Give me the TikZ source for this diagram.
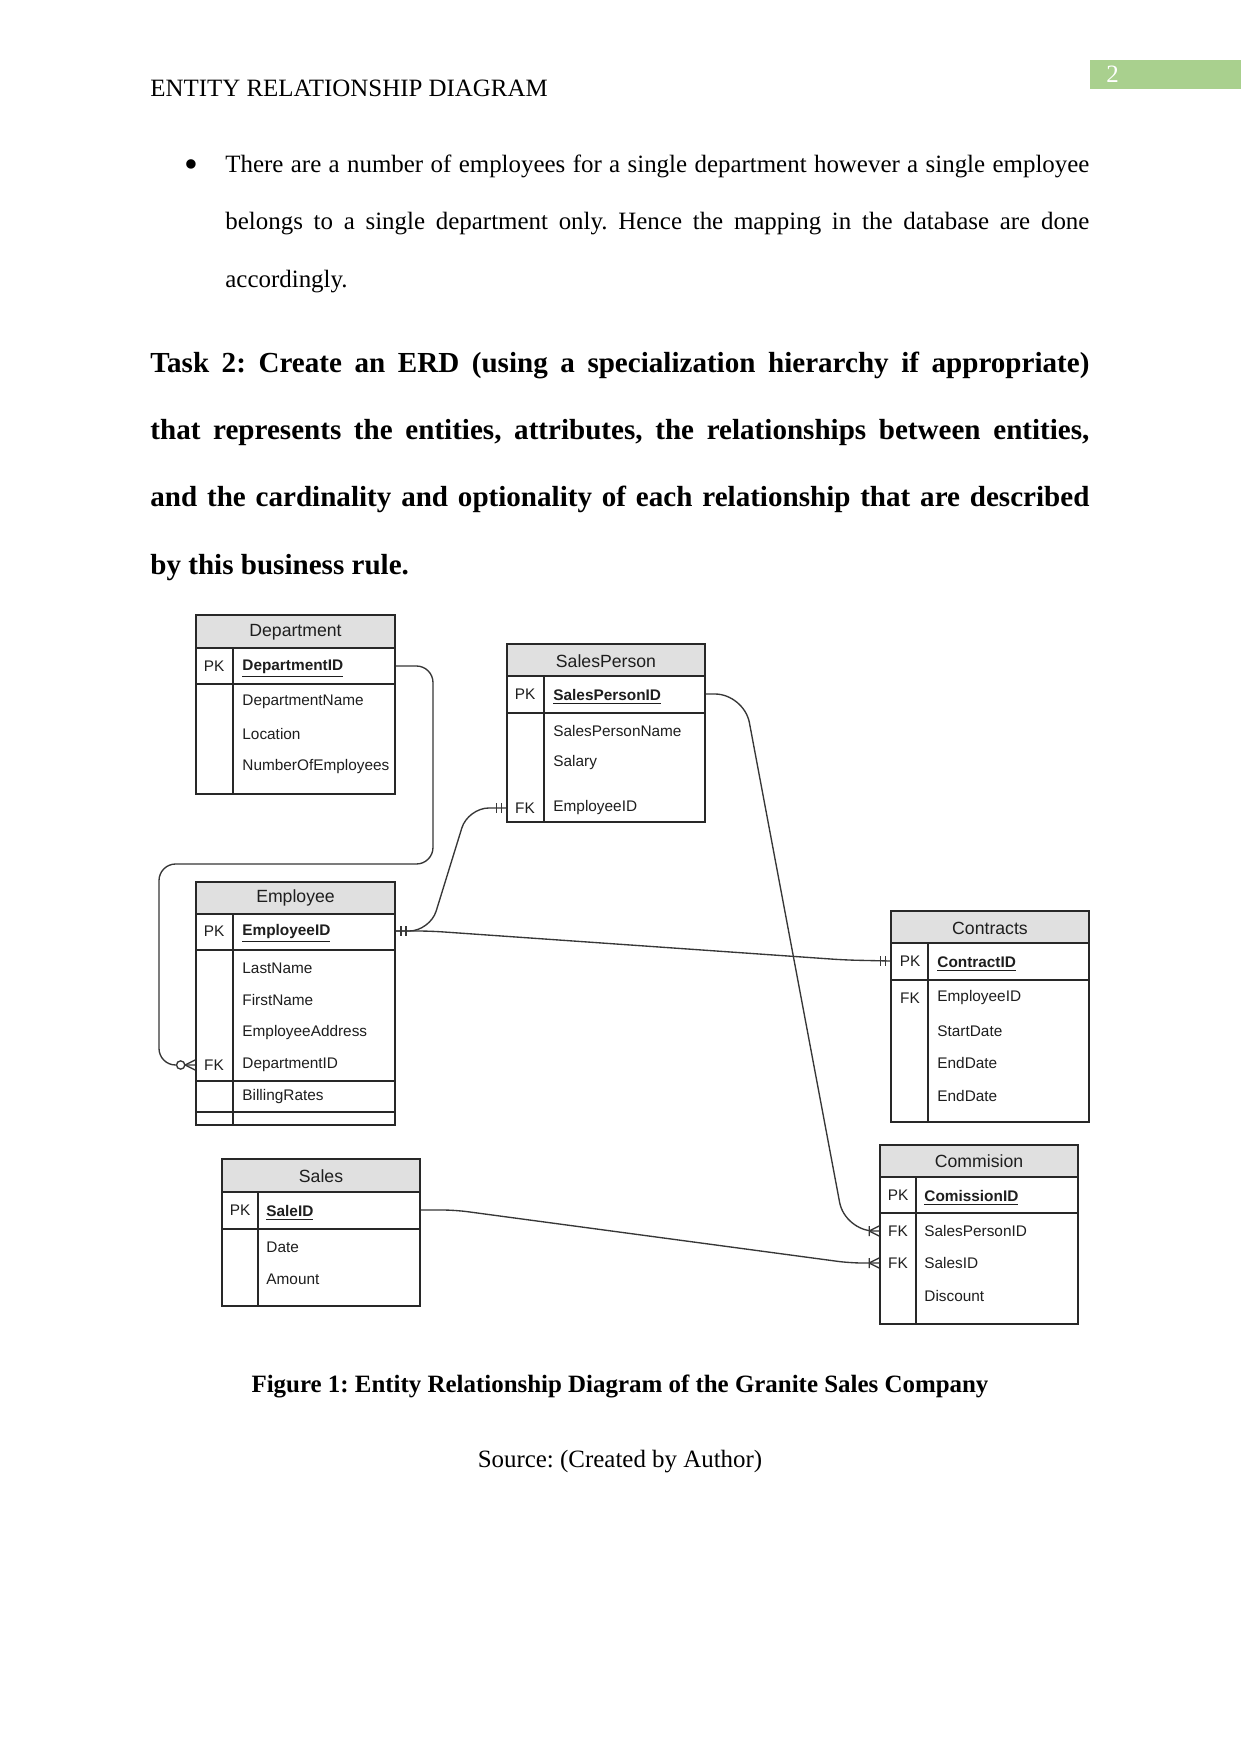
\documentclass[tikz,border=0pt]{standalone}
\usepackage{fontspec}
\setmainfont{Liberation Serif}
\newfontfamily\erfont{Liberation Sans}
\usepackage{xcolor}
\usepackage{tikz}
\usetikzlibrary{fit}
\frenchspacing
\definecolor{pagegreen}{RGB}{169, 208, 142}
\definecolor{hdrgray}{RGB}{224, 224, 224}
\definecolor{framegray}{RGB}{40, 40, 40}
\definecolor{relgray}{RGB}{55, 55, 55}
\definecolor{txtdark}{RGB}{30, 30, 30}

\tikzset{
  bodytxt/.style={anchor=base west, inner sep=0pt, font=\fontsize{12}{14}\selectfont},
  tasktxt/.style={anchor=base west, inner sep=0pt, font=\bfseries\fontsize{14}{16}\selectfont},
  entframe/.style={draw=framegray, line width=0.8pt, inner sep=0pt},
  entline/.style={draw=framegray, line width=0.8pt},
  enthdr/.style={fill=hdrgray},
  enttitle/.style={inner sep=0pt, text=txtdark, font=\erfont\fontsize{8.5}{10}\selectfont},
  keytxt/.style={inner sep=0pt, text=txtdark, font=\erfont\fontsize{7.4}{9}\selectfont},
  fldtxt/.style={anchor=west, inner sep=0pt, text=txtdark, font=\erfont\fontsize{7.4}{9}\selectfont},
  pktxt/.style={fldtxt, yshift=-1.4pt, font=\erfont\bfseries\fontsize{7.4}{9}\selectfont},
  relline/.style={draw=relgray, line width=0.65pt},
  mandone/.pic={
    \draw[relline] (-5,-5) -- (-5,5) (-10,-5) -- (-10,5);
  },
  onemany/.pic={
    \draw[relline] (-10,0) -- (0,-5) (-10,0) -- (0,5) (-10,-5) -- (-10,5);
  },
  zeromany/.pic={
    \draw[relline] (-10,0) -- (0,-5) (-10,0) -- (0,5);
    \draw[relline, fill=white] (-14.5,0) circle[radius=0.7mm];
  }
}

\begin{document}
\begin{tikzpicture}[x=0.16922mm, y=-0.16922mm]
    \useasboundingbox[fill=white] (0,0) rectangle (1241,1754);

    % Running head
    \node[bodytxt] (runhead) at (150,97) {ENTITY RELATIONSHIP DIAGRAM};
    \fill[pagegreen] (1090,60) rectangle (1241,89);
    \node[bodytxt, white] (pagenum) at (1106,83) {2};

    % Bullet point
    \node[inner sep=0pt, font=\fontsize{19}{20}\selectfont] (bullet) at (191,169) {\textbullet};
    \node[bodytxt] (para1) at (225,173) {\makebox[146.2mm][s]{There are a number of employees for a single department however a single employee}};
    \node[bodytxt] (para2) at (225,230) {\makebox[146.2mm][s]{belongs to a single department only. Hence the mapping in the database are done}};
    \node[bodytxt] (para3) at (225,288) {accordingly.};

    % Task heading
    \node[tasktxt] (task1) at (150,373) {\makebox[158.9mm][s]{Task 2: Create an ERD (using a specialization hierarchy if appropriate)}};
    \node[tasktxt] (task2) at (150,440) {\makebox[158.9mm][s]{that represents the entities, attributes, the relationships between entities,}};
    \node[tasktxt] (task3) at (150,507) {\makebox[158.9mm][s]{and the cardinality and optionality of each relationship that are described}};
    \node[tasktxt] (task4) at (150,574) {by this business rule.};

    % Department
    \fill[enthdr] (196,615) rectangle (395,648);
    \node[entframe, fit={(196,615) (395,794)}] (dept) {};
    \draw[entline] (196,648) -- (395,648);
    \draw[entline] (196,684) -- (395,684);
    \draw[entline] (233,648) -- (233,794);
    \node[enttitle] (depttitle) at (295.5,632) {Department};
    \node[keytxt] (deptpk) at (214,666) {PK};
    \node[pktxt] (deptid) at (242,666) {\underline{DepartmentID}};
    \node[fldtxt] (deptname) at (242,702) {DepartmentName};
    \node[fldtxt] (deptloc) at (242,734) {Location};
    \node[fldtxt] (deptnum) at (242,767) {NumberOfEmployees};

    % SalesPerson
    \fill[enthdr] (507,644) rectangle (705,676);
    \node[entframe, fit={(507,644) (705,822)}] (sp) {};
    \draw[entline] (507,676) -- (705,676);
    \draw[entline] (507,713) -- (705,713);
    \draw[entline] (544,676) -- (544,822);
    \node[enttitle] (sptitle) at (606,661) {SalesPerson};
    \node[keytxt] (sppk) at (525,694) {PK};
    \node[pktxt] (spid) at (553,694) {\underline{SalesPersonID}};
    \node[fldtxt] (spname) at (553,731) {SalesPersonName};
    \node[fldtxt] (spsal) at (553,763) {Salary};
    \node[keytxt] (spfk) at (525,808) {FK};
    \node[fldtxt] (spemp) at (553,808) {EmployeeID};

    % Employee
    \fill[enthdr] (196,882) rectangle (395,914);
    \node[entframe, fit={(196,882) (395,1125)}] (emp) {};
    \draw[entline] (196,914) -- (395,914);
    \draw[entline] (196,950) -- (395,950);
    \draw[entline] (196,1081) -- (395,1081);
    \draw[entline] (196,1112) -- (395,1112);
    \draw[entline] (233,914) -- (233,1125);
    \node[enttitle] (emptitle) at (295.5,898) {Employee};
    \node[keytxt] (emppk) at (214,931) {PK};
    \node[pktxt] (empid) at (242,931) {\underline{EmployeeID}};
    \node[fldtxt] (emplast) at (242,968) {LastName};
    \node[fldtxt] (empfirst) at (242,1000) {FirstName};
    \node[fldtxt] (empaddr) at (242,1033) {EmployeeAddress};
    \node[keytxt] (empfk) at (214,1065) {FK};
    \node[fldtxt] (empdept) at (242,1065) {DepartmentID};
    \node[fldtxt] (emprate) at (242,1097) {BillingRates};

    % Contracts
    \fill[enthdr] (891,911) rectangle (1089,943);
    \node[entframe, fit={(891,911) (1089,1122)}] (ct) {};
    \draw[entline] (891,943) -- (1089,943);
    \draw[entline] (891,980) -- (1089,980);
    \draw[entline] (928,943) -- (928,1122);
    \node[enttitle] (cttitle) at (990,928) {Contracts};
    \node[keytxt] (ctpk) at (910,961) {PK};
    \node[pktxt] (ctid) at (937,961) {\underline{ContractID}};
    \node[keytxt] (ctfk) at (910,998) {FK};
    \node[fldtxt] (ctemp) at (937,998) {EmployeeID};
    \node[fldtxt] (ctstart) at (937,1031) {StartDate};
    \node[fldtxt] (ctend) at (937,1063) {EndDate};
    \node[fldtxt] (ctendb) at (937,1096) {EndDate};

    % Sales
    \fill[enthdr] (222,1159) rectangle (420,1192);
    \node[entframe, fit={(222,1159) (420,1306)}] (sales) {};
    \draw[entline] (222,1192) -- (420,1192);
    \draw[entline] (222,1229) -- (420,1229);
    \draw[entline] (258,1192) -- (258,1306);
    \node[enttitle] (salestitle) at (321,1176) {Sales};
    \node[keytxt] (salespk) at (240,1210) {PK};
    \node[pktxt] (saleid) at (266,1210) {\underline{SaleID}};
    \node[fldtxt] (saledate) at (266,1247) {Date};
    \node[fldtxt] (saleamt) at (266,1279) {Amount};

    % Commision
    \fill[enthdr] (880,1145) rectangle (1078,1177);
    \node[entframe, fit={(880,1145) (1078,1324)}] (cm) {};
    \draw[entline] (880,1177) -- (1078,1177);
    \draw[entline] (880,1213) -- (1078,1213);
    \draw[entline] (916,1177) -- (916,1324);
    \node[enttitle] (cmtitle) at (979,1161) {Commision};
    \node[keytxt] (cmpk) at (898,1195) {PK};
    \node[pktxt] (cmid) at (924,1195) {\underline{ComissionID}};
    \node[keytxt] (cmfka) at (898,1231) {FK};
    \node[fldtxt] (cmsp) at (924,1231) {SalesPersonID};
    \node[keytxt] (cmfkb) at (898,1263) {FK};
    \node[fldtxt] (cmsales) at (924,1263) {SalesID};
    \node[fldtxt] (cmdisc) at (924,1296) {Discount};

    % Relationships
    \draw[relline, rounded corners=8] (dept.east |- deptpk) -- (433,666) -- (433,864) -- (159,864) -- (159,1065) -- (emp.west |- empdept);
    \draw[relline, rounded corners=10] (emp.east |- emppk) -- (430,931) -- (468,808) -- (sp.west |- spemp);
    \draw[relline, rounded corners=6] (emp.east |- emppk) -- (430,931) -- (845,960) -- (ct.west |- ctpk);
    \draw[relline, rounded corners=14] (sp.east |- sppk) -- (744,694) -- (845,1231) -- (cm.west |- cmsp);
    \draw[relline, rounded corners=6] (sales.east |- salespk) -- (455,1210) -- (850,1263) -- (cm.west |- cmsales);

    % Cardinality marks
    \pic at (emp.west |- empdept) {zeromany};
    \pic[xscale=-1] at (emp.east |- emppk) {mandone};
    \pic at (sp.west |- spemp) {mandone};
    \pic at (ct.west |- ctpk) {mandone};
    \pic at (cm.west |- cmsp) {onemany};
    \pic at (cm.west |- cmsales) {onemany};

    % Caption
    \node[anchor=base, inner sep=0pt, font=\bfseries\fontsize{12}{14}\selectfont] (figcap) at (620,1392) {Figure 1: Entity Relationship Diagram of the Granite Sales Company};
    \node[anchor=base, inner sep=0pt, font=\fontsize{12}{14}\selectfont] (source) at (620,1467) {Source: (Created by Author)};
\end{tikzpicture}
\end{document}
